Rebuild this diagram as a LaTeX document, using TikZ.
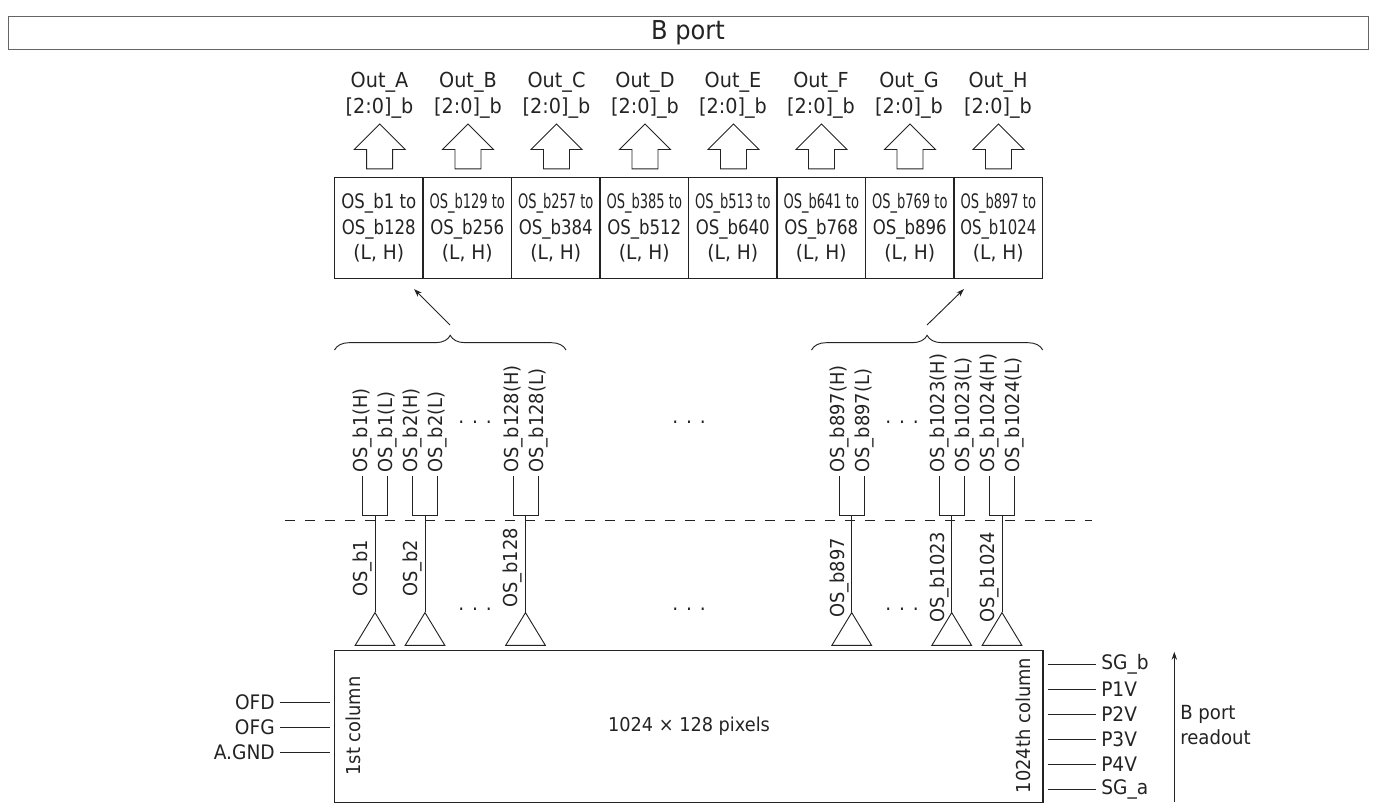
\documentclass[tikz,border=0pt]{standalone}
\usepackage{fontspec}
\usepackage{graphicx}
\setmainfont[FakeStretch=0.93]{DejaVu Sans}
\usetikzlibrary{shapes.geometric, shapes.arrows, arrows.meta, decorations.pathreplacing, positioning, calc}
\definecolor{lineblack}{RGB}{35,35,35}
\tikzset{
  lbl/.style={text=lineblack, font=\fontsize{15}{18}\selectfont, inner sep=0pt},
  sidelbl/.style={lbl, rotate=90, font=\fontsize{14.4}{18}\selectfont},
  toplbl/.style={lbl, align=center, font=\fontsize{15.5}{19.5}\selectfont},
  porttitle/.style={
    rectangle, draw=lineblack!70, line width=0.5pt, minimum width=1020pt, minimum height=20pt,
    text=lineblack, font=\fontsize{19.5}{22}\selectfont
  },
  column/.style={
    rectangle, draw=lineblack, line width=0.9pt, minimum width=66.4pt, minimum height=75.7pt,
    align=center, inner sep=0pt, text=lineblack, font=\fontsize{15}{19}\selectfont
  },
  bigarrow/.style={
    single arrow, draw=lineblack, line width=0.7pt, rotate=90, inner xsep=0pt, inner ysep=9.4pt,
    minimum width=37.5pt, minimum height=33.7pt, single arrow head extend=9.4pt,
    single arrow tip angle=90, anchor=tip
  },
  amp/.style={
    isosceles triangle, draw=lineblack, line width=0.7pt, shape border rotate=90, inner sep=0pt,
    isosceles triangle apex angle=61, isosceles triangle stretches,
    minimum width=29.7pt, minimum height=24.5pt, anchor=apex
  },
  outhi/.style={sidelbl, anchor=west, inner xsep=2.5pt},
  outlo/.style={sidelbl, anchor=west},
  wire/.style={draw=lineblack, line width=0.7pt},
  thinarrow/.style={wire, -{Stealth[length=6pt,width=4pt]}},
  dotrow/.style={lbl}
}
\newcommand{\widthos}[1]{\scalebox{0.89}[1]{#1}}
\newcommand{\thinos}[1]{\scalebox{0.70}[1]{#1}}

\begin{document}
\begin{tikzpicture}[x=0.75pt, y=-0.75pt]
  \useasboundingbox (0,0) rectangle (1377,808);

  \node (port) [porttitle] at (688,32.5) {B port};

  % output blocks
  \node (colA) [column] at (378.8,228) {\widthos{OS\_b1 to}\\\widthos{OS\_b128}\\(L, H)};
  \node (colB) [column] at (467.3,228) {\thinos{OS\_b129 to}\\\widthos{OS\_b256}\\(L, H)};
  \node (colC) [column] at (555.8,228) {\thinos{OS\_b257 to}\\\widthos{OS\_b384}\\(L, H)};
  \node (colD) [column] at (644.3,228) {\thinos{OS\_b385 to}\\\widthos{OS\_b512}\\(L, H)};
  \node (colE) [column] at (732.8,228) {\thinos{OS\_b513 to}\\\widthos{OS\_b640}\\(L, H)};
  \node (colF) [column] at (821.3,228) {\thinos{OS\_b641 to}\\\widthos{OS\_b768}\\(L, H)};
  \node (colG) [column] at (909.8,228) {\thinos{OS\_b769 to}\\\widthos{OS\_b896}\\(L, H)};
  \node (colH) [column] at (998.3,228) {\thinos{OS\_b897 to}\\\scalebox{0.8}[1]{OS\_b1024}\\(L, H)};

  \node (arrA) [bigarrow] at (379.7,123.3) {};
  \node (arrB) [bigarrow] at (468,123.3) {};
  \node (arrC) [bigarrow] at (556.5,123.3) {};
  \node (arrD) [bigarrow] at (645,123.3) {};
  \node (arrE) [bigarrow] at (733.5,123.3) {};
  \node (arrF) [bigarrow] at (821.5,123.3) {};
  \node (arrG) [bigarrow] at (910,123.3) {};
  \node (arrH) [bigarrow] at (998.5,123.3) {};

  \node (outA) [toplbl] at (379.5,95) {Out\_A\\{}[2:0]\_b};
  \node (outB) [toplbl] at (468,95) {Out\_B\\{}[2:0]\_b};
  \node (outC) [toplbl] at (556.5,95) {Out\_C\\{}[2:0]\_b};
  \node (outD) [toplbl] at (645,95) {Out\_D\\{}[2:0]\_b};
  \node (outE) [toplbl] at (733,95) {Out\_E\\{}[2:0]\_b};
  \node (outF) [toplbl] at (821,95) {Out\_F\\{}[2:0]\_b};
  \node (outG) [toplbl] at (909,95) {Out\_G\\{}[2:0]\_b};
  \node (outH) [toplbl] at (998,95) {Out\_H\\{}[2:0]\_b};

  % braces
  \coordinate (braceAs) at (334.5,350);
  \coordinate (braceAe) at (566,350);
  \coordinate (braceBs) at (811.5,350);
  \coordinate (braceBe) at (1042.7,350);
  \draw [wire, decorate, decoration={brace, amplitude=11pt}] (braceAs) -- (braceAe);
  \draw [wire, decorate, decoration={brace, amplitude=11pt}] (braceBs) -- (braceBe);
  \coordinate (tipA) at (450,325);
  \coordinate (tipB) at (927,325);
  \coordinate (headA) at (414,289);
  \coordinate (headB) at (964,289);
  \draw [thinarrow] (tipA) -- (headA);
  \draw [thinarrow] (tipB) -- (headB);

  % pixel array
  \node (array) [rectangle, draw=lineblack, line width=0.9pt, minimum width=531.4pt, minimum height=114.3pt] at (688.8,726.5) {};
  \node (pixels) [lbl, font=\fontsize{14.3}{18}\selectfont] at (689,726) {1024 × 128 pixels};
  \node (first) [sidelbl] at (353,726) {1st column};
  \node (last) [sidelbl] at (1023,725.5) {1024th column};

  % amplifiers
  \node (ampa) [amp] at (375,611.7) {};
  \node (ampb) [amp] at (425,611.7) {};
  \node (ampc) [amp] at (525.5,611.7) {};
  \node (ampd) [amp] at (851.7,611.7) {};
  \node (ampe) [amp] at (951.7,611.7) {};
  \node (ampf) [amp] at (1002,611.7) {};

  \coordinate (forka) at (375,515.3);
  \coordinate (forkb) at (425,515.3);
  \coordinate (forkc) at (525.5,515.3);
  \coordinate (forkd) at (851.7,515.3);
  \coordinate (forke) at (951.7,515.3);
  \coordinate (forkf) at (1002,515.3);

  \node (hia) [outhi] at (362.7,476) {OS\_b1(H)};
  \node (loa) [outhi] at (387.7,476) {OS\_b1(L)};
  \node (hib) [outhi] at (412.7,476) {OS\_b2(H)};
  \node (lob) [outhi] at (437.7,476) {OS\_b2(L)};
  \node (hic) [outhi] at (513,476) {OS\_b128(H)};
  \node (loc) [outhi] at (538,476) {OS\_b128(L)};
  \node (hid) [outhi] at (839.3,476) {OS\_b897(H)};
  \node (lod) [outhi] at (864.3,476) {OS\_b897(L)};
  \node (hie) [outhi] at (939,476) {OS\_b1023(H)};
  \node (loe) [outhi] at (964,476) {OS\_b1023(L)};
  \node (hif) [outhi] at (989.7,476) {OS\_b1024(H)};
  \node (lof) [outhi] at (1014.7,476) {OS\_b1024(L)};

  \node (sga) [outlo] at (362.7,597) {OS\_b1};
  \node (sgb) [outlo] at (412.7,597) {OS\_b2};
  \node (sgc) [outlo] at (512.7,608) {OS\_b128};
  \node (sgd) [outlo] at (839,618) {OS\_b897};
  \node (sge) [outlo] at (939,623) {OS\_b1023};
  \node (sgf) [outlo] at (989.7,623) {OS\_b1024};

  \draw [wire] (hia.west) |- (forka) -| (loa.west);
  \draw [wire] (hib.west) |- (forkb) -| (lob.west);
  \draw [wire] (hic.west) |- (forkc) -| (loc.west);
  \draw [wire] (hid.west) |- (forkd) -| (lod.west);
  \draw [wire] (hie.west) |- (forke) -| (loe.west);
  \draw [wire] (hif.west) |- (forkf) -| (lof.west);
  \draw [wire] (forka) -- (ampa.apex);
  \draw [wire] (forkb) -- (ampb.apex);
  \draw [wire] (forkc) -- (ampc.apex);
  \draw [wire] (forkd) -- (ampd.apex);
  \draw [wire] (forke) -- (ampe.apex);
  \draw [wire] (forkf) -- (ampf.apex);

  \coordinate (cutl) at (285,520);
  \coordinate (cutr) at (1092,520);
  \draw [wire, dash pattern=on 7.5pt off 7.5pt] (cutl) -- (cutr);

  \node (dotsa) [dotrow] at (475,422) {. . .};
  \node (dotsb) [dotrow] at (689,422) {. . .};
  \node (dotsc) [dotrow] at (902,422) {. . .};
  \node (dotsd) [dotrow] at (475,609) {. . .};
  \node (dotse) [dotrow] at (689,609) {. . .};
  \node (dotsf) [dotrow] at (902,609) {. . .};

  % left pins
  \node (ofd) [lbl, anchor=east] at (275,702) {OFD};
  \node (ofg) [lbl, anchor=east] at (275,727) {OFG};
  \node (gnd) [lbl, anchor=east] at (275,752) {A.GND};
  \coordinate (ofdend) at (330,702);
  \coordinate (ofgend) at (330,727);
  \coordinate (gndend) at (330,752);
  \draw [wire] ([xshift=4pt]ofd.east) -- (ofdend);
  \draw [wire] ([xshift=4pt]ofg.east) -- (ofgend);
  \draw [wire] ([xshift=4pt]gnd.east) -- (gndend);

  % right pins
  \node (sgbp) [lbl, anchor=west] at (1101,664) {SG\_b};
  \node (pone) [lbl, anchor=west] at (1101,689) {P1V};
  \node (ptwo) [lbl, anchor=west] at (1101,714) {P2V};
  \node (pthr) [lbl, anchor=west] at (1101,739) {P3V};
  \node (pfou) [lbl, anchor=west] at (1101,764) {P4V};
  \node (sgap) [lbl, anchor=west] at (1101,789) {SG\_a};
  \coordinate (sgbend) at (1047.7,664);
  \coordinate (oneend) at (1047.7,689);
  \coordinate (twoend) at (1047.7,714);
  \coordinate (thrend) at (1047.7,739);
  \coordinate (fouend) at (1047.7,764);
  \coordinate (sgaend) at (1047.7,789);
  \draw [wire] (sgbend) -- ([xshift=-4pt]sgbp.west);
  \draw [wire] (oneend) -- ([xshift=-4pt]pone.west);
  \draw [wire] (twoend) -- ([xshift=-4pt]ptwo.west);
  \draw [wire] (thrend) -- ([xshift=-4pt]pthr.west);
  \draw [wire] (fouend) -- ([xshift=-4pt]pfou.west);
  \draw [wire] (sgaend) -- ([xshift=-4pt]sgap.west);

  \coordinate (readlo) at (1174.3,802);
  \coordinate (readhi) at (1174.3,651.7);
  \draw [thinarrow] (readlo) -- (readhi);
  \node (readout) [lbl, anchor=west, align=left, font=\fontsize{14.6}{18.7}\selectfont] at (1180,725) {B port\\readout};
\end{tikzpicture}
\end{document}
